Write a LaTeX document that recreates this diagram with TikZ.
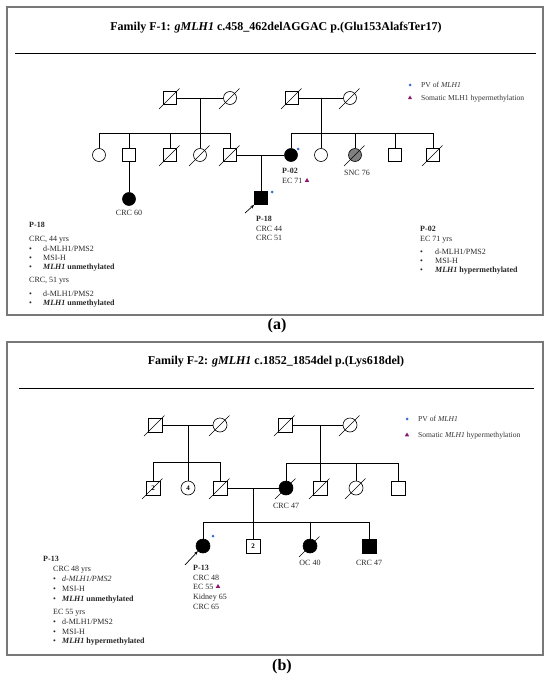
\documentclass[tikz,border=0pt]{standalone}
\usepackage{fontspec}
\setmainfont{Liberation Serif}
\usetikzlibrary{shapes.geometric,arrows.meta}
\definecolor{pvblue}{RGB}{58,110,215}
\definecolor{methpurple}{RGB}{140,20,110}
\definecolor{framegray}{RGB}{120,120,120}
\definecolor{sncgray}{RGB}{128,128,128}
\newcommand\deadmark[1]{\draw[pedline] ([shift={(-11,11)}]#1.center) -- ([shift={(9.5,-9.5)}]#1.center);}
\begin{document}
\begin{tikzpicture}[x=1pt,y=-1pt,
  pedline/.style={line width=0.6pt},
  sq/.style={draw, rectangle, minimum size=13pt, inner sep=0pt, line width=0.6pt},
  ci/.style={draw, circle, minimum size=13pt, inner sep=0pt, line width=0.6pt},
  sqb/.style={sq, minimum size=14pt},
  cib/.style={ci, minimum size=14pt},
  aff/.style={fill=black},
  txt/.style={font=\fontsize{8}{9}\selectfont, inner sep=0pt, text=black!85},
  leg/.style={font=\fontsize{7.6}{9}\selectfont, inner sep=0pt, text=black!80},
  ttl/.style={font=\fontsize{12}{14}\selectfont\bfseries, inner sep=0pt},
  pan/.style={font=\fontsize{16}{18}\selectfont\bfseries, inner sep=0pt},
  frm/.style={draw=framegray, line width=1.2pt},
  pvdot/.style={circle, fill=pvblue, minimum size=3pt, inner sep=0pt},
  methtri/.style={regular polygon, regular polygon sides=3, fill=methpurple, minimum size=5pt, inner sep=0pt},
  proband/.style={-{Stealth[length=4pt,width=3pt]}, line width=0.7pt}
]
\useasboundingbox (0,0) rectangle (550,682);

% ================= Panel a =================
\draw[frm] (7,7) rectangle (543,315);
\node[ttl] (titleA) at (276,28) {Family F-1: \textit{gMLH1} c.458\_462delAGGAC p.(Glu153AlafsTer17)};
\draw[line width=0.9pt] (15,53) -- (536,53);

% legend
\node[pvdot] (lgA1) at (410,85) {};
\node[leg, anchor=mid west] (lgA1t) at (421,85) {PV of \textit{MLH1}};
\node[methtri] (lgA2) at (410,98) {};
\node[leg, anchor=mid west] (lgA2t) at (421,98) {Somatic MLH1 hypermethylation};

% generation I
\node[sq] (a1) at (170,98) {};
\node[ci] (a2) at (230,98) {};
\node[sq] (a3) at (292,98) {};
\node[ci] (a4) at (350,98) {};
\deadmark{a1}\deadmark{a2}\deadmark{a3}\deadmark{a4}
\draw[pedline] (a1) -- (a2);
\draw[pedline] (a3) -- (a4);
\coordinate (ma1) at (200,98);
\coordinate (ma2) at (321,98);

% generation II
\node[ci] (b1) at (99,155) {};
\node[sq] (b2) at (129,155) {};
\node[sq] (b3) at (170,155) {};
\node[ci] (b4) at (200,155) {};
\node[sq] (b5) at (230,155) {};
\node[ci, aff] (b6) at (291,155) {};
\node[ci] (b7) at (321,155) {};
\node[ci, fill=sncgray] (b8) at (355,155) {};
\node[sq] (b9) at (395,155) {};
\node[sq] (b10) at (433,155) {};
\deadmark{b3}\deadmark{b4}\deadmark{b5}\deadmark{b8}\deadmark{b10}
\coordinate (sa1) at (200,133);
\coordinate (sa2) at (321,133);
\draw[pedline] (ma1) -- (b4);
\draw[pedline] (b1 |- sa1) -- (b5 |- sa1);
\foreach \n in {b1,b2,b3,b5} \draw[pedline] (\n) -- (\n |- sa1);
\draw[pedline] (ma2) -- (b7);
\draw[pedline] (b6 |- sa2) -- (b10 |- sa2);
\foreach \n in {b6,b8,b9,b10} \draw[pedline] (\n) -- (\n |- sa2);
\draw[pedline] (b5) -- (b6);
\coordinate (ma3) at (261,155);

% generation III
\node[ci, aff] (c1) at (129,199) {};
\node[sq, aff] (c2) at (261,198) {};
\draw[pedline] (b2) -- (c1);
\draw[pedline] (ma3) -- (c2);

% markers
\node[pvdot] (dA1) at (298,149) {};
\node[pvdot] (dA2) at (272,192) {};
\coordinate (arA) at (245,213);
\draw[proband] (arA) -- (c2.south west);

% pedigree labels
\node[txt, anchor=mid west] (lP02) at (282,171) {\textbf{P-02}};
\node[txt, anchor=mid west] (lP02b) at (282,181) {EC 71};
\node[methtri] (tA1) at (307,180.5) {};
\node[txt] (lSNC) at (357,173) {SNC 76};
\node[txt] (lCRC60) at (129,213) {CRC 60};
\node[txt, anchor=mid west] (lP18) at (256,219) {\textbf{P-18}};
\node[txt, anchor=mid west] (lP18b) at (256,229) {CRC 44};
\node[txt, anchor=mid west] (lP18c) at (256,238) {CRC 51};

% left text box (P-18)
\node[txt, anchor=mid west] (x1) at (29,225) {\textbf{P-18}};
\node[txt, anchor=mid west] (x2) at (29,239) {CRC, 44 yrs};
\node[txt, anchor=mid west] (x3b) at (29,249) {•};
\node[txt, anchor=mid west] (x3) at (43,249) {d-MLH1/PMS2};
\node[txt, anchor=mid west] (x4b) at (29,258) {•};
\node[txt, anchor=mid west] (x4) at (43,258) {MSI-H};
\node[txt, anchor=mid west] (x5b) at (29,267) {•};
\node[txt, anchor=mid west] (x5) at (43,267) {\textbf{\textit{MLH1} unmethylated}};
\node[txt, anchor=mid west] (x6) at (29,280) {CRC, 51 yrs};
\node[txt, anchor=mid west] (x7b) at (29,294) {•};
\node[txt, anchor=mid west] (x7) at (43,294) {d-MLH1/PMS2};
\node[txt, anchor=mid west] (x8b) at (29,303) {•};
\node[txt, anchor=mid west] (x8) at (43,303) {\textbf{\textit{MLH1} unmethylated}};

% right text box (P-02)
\node[txt, anchor=mid west] (y1) at (420,229) {\textbf{P-02}};
\node[txt, anchor=mid west] (y2) at (420,239) {EC 71 yrs};
\node[txt, anchor=mid west] (y3b) at (420,252) {•};
\node[txt, anchor=mid west] (y3) at (435,252) {d-MLH1/PMS2};
\node[txt, anchor=mid west] (y4b) at (420,261) {•};
\node[txt, anchor=mid west] (y4) at (435,261) {MSI-H};
\node[txt, anchor=mid west] (y5b) at (420,270) {•};
\node[txt, anchor=mid west] (y5) at (435,270) {\textbf{\textit{MLH1} hypermethylated}};

\node[pan] (panA) at (277,326) {(a)};

% ================= Panel b =================
\draw[frm] (7,342) rectangle (543,655);
\node[ttl] (titleB) at (276,362) {Family F-2: \textit{gMLH1} c.1852\_1854del p.(Lys618del)};
\draw[line width=0.9pt] (19,388) -- (534,388);

% legend
\node[pvdot] (lgB1) at (407,419) {};
\node[leg, anchor=mid west] (lgB1t) at (418,419) {PV of \textit{MLH1}};
\node[methtri] (lgB2) at (407,435) {};
\node[leg, anchor=mid west] (lgB2t) at (418,435) {Somatic \textit{MLH1} hypermethylation};

% generation I
\node[sqb] (d1) at (155,425) {};
\node[cib] (d2) at (220,425) {};
\node[sqb] (d3) at (285,425) {};
\node[cib] (d4) at (350,425) {};
\deadmark{d1}\deadmark{d2}\deadmark{d3}\deadmark{d4}
\draw[pedline] (d1) -- (d2);
\draw[pedline] (d3) -- (d4);
\coordinate (mb1) at (188,425);
\coordinate (mb2) at (320,425);

% generation II
\node[sqb, font=\fontsize{7}{8}\selectfont\bfseries] (e1) at (153,488) {2};
\node[cib, font=\fontsize{7}{8}\selectfont\bfseries] (e2) at (188,488) {4};
\node[sqb] (e3) at (220,488) {};
\node[cib, aff] (e4) at (286,488) {};
\node[sqb] (e5) at (320,488) {};
\node[cib] (e6) at (356,488) {};
\node[sqb] (e7) at (398,488) {};
\deadmark{e1}\deadmark{e3}\deadmark{e4}\deadmark{e5}\deadmark{e6}
\coordinate (sb1) at (188,462);
\coordinate (sb2) at (320,463);
\draw[pedline] (mb1) -- (e2);
\draw[pedline] (e1 |- sb1) -- (e3 |- sb1);
\foreach \n in {e1,e3} \draw[pedline] (\n) -- (\n |- sb1);
\draw[pedline] (mb2) -- (e5);
\draw[pedline] (e4 |- sb2) -- (e7 |- sb2);
\foreach \n in {e4,e6,e7} \draw[pedline] (\n) -- (\n |- sb2);
\draw[pedline] (e3) -- (e4);
\coordinate (mb3) at (253,488);

% generation III
\node[cib, aff] (f1) at (203,546) {};
\node[sqb, font=\fontsize{7}{8}\selectfont\bfseries] (f2) at (253,546) {2};
\node[cib, aff] (f3) at (310,546) {};
\node[sqb, aff] (f4) at (369,546) {};
\deadmark{f3}
\coordinate (sb3) at (253,522);
\draw[pedline] (mb3) -- (f2);
\draw[pedline] (f1 |- sb3) -- (f4 |- sb3);
\foreach \n in {f1,f3,f4} \draw[pedline] (\n) -- (\n |- sb3);

% markers
\node[pvdot] (dB1) at (213,536) {};
\coordinate (arB) at (185,565);
\draw[proband] (arB) -- (f1.225);

% labels
\node[txt] (lCRC47a) at (286,506) {CRC 47};
\node[txt] (lOC40) at (310,563) {OC 40};
\node[txt] (lCRC47b) at (369,563) {CRC 47};
\node[txt, anchor=mid west] (lP13) at (193,568) {\textbf{P-13}};
\node[txt, anchor=mid west] (lP13b) at (193,578) {CRC 48};
\node[txt, anchor=mid west] (lP13c) at (193,587) {EC 55};
\node[methtri] (tB1) at (218,586.5) {};
\node[txt, anchor=mid west] (lP13d) at (193,597) {Kidney 65};
\node[txt, anchor=mid west] (lP13e) at (193,607) {CRC 65};

% left text box (P-13)
\node[txt, anchor=mid west] (z1) at (43,559) {\textbf{P-13}};
\node[txt, anchor=mid west] (z2) at (53,569) {CRC 48 yrs};
\node[txt, anchor=mid west] (z3b) at (53,579) {•};
\node[txt, anchor=mid west] (z3) at (62,579) {\textit{d-MLH1/PMS2}};
\node[txt, anchor=mid west] (z4b) at (53,589) {•};
\node[txt, anchor=mid west] (z4) at (62,589) {MSI-H};
\node[txt, anchor=mid west] (z5b) at (53,599) {•};
\node[txt, anchor=mid west] (z5) at (62,599) {\textbf{\textit{MLH1} unmethylated}};
\node[txt, anchor=mid west] (z6) at (53,612) {EC 55 yrs};
\node[txt, anchor=mid west] (z7b) at (53,622) {•};
\node[txt, anchor=mid west] (z7) at (62,622) {d-MLH1/PMS2};
\node[txt, anchor=mid west] (z8b) at (53,632) {•};
\node[txt, anchor=mid west] (z8) at (62,632) {MSI-H};
\node[txt, anchor=mid west] (z9b) at (53,641) {•};
\node[txt, anchor=mid west] (z9) at (62,641) {\textbf{\textit{MLH1} hypermethylated}};

\node[pan] (panB) at (282,667) {(b)};
\end{tikzpicture}
\end{document}
